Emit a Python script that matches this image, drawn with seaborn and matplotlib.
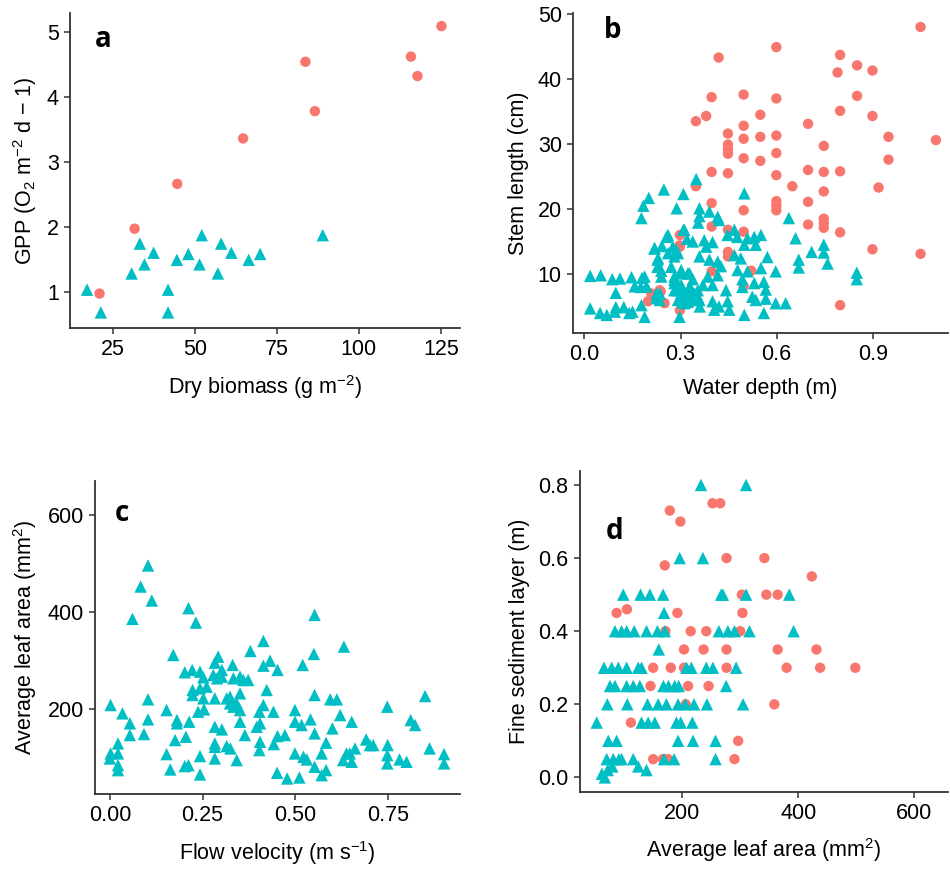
import numpy as np
import pandas as pd
import seaborn as sns
import matplotlib.pyplot as plt

RED = "#F8766D"
TEAL = "#00BFC4"

# panel a: dry biomass vs GPP
a_red_x = [20.9, 31.6, 44.6, 64.7, 83.7, 86.6, 115.9, 117.9, 125.2]
a_red_y = [0.97, 1.97, 2.66, 3.36, 4.54, 3.78, 4.62, 4.32, 5.09]
a_teal_x = [17.1, 21.3, 30.7, 33.2, 34.6, 37.4, 41.8, 41.8, 44.5, 48.0, 51.4, 52.1,
            57.0, 58.0, 61.1, 66.4, 69.9, 89.0]
a_teal_y = [1.03, 0.68, 1.28, 1.74, 1.42, 1.60, 1.03, 0.68, 1.49, 1.58, 1.42, 1.87,
            1.28, 1.74, 1.60, 1.49, 1.58, 1.87]

# panel b: water depth vs stem length
b_red = [(1.049, 48.0), (0.599, 44.9), (0.419, 43.3), (0.798, 43.7), (0.851, 42.1),
         (0.790, 41.0), (0.899, 41.3), (0.397, 37.2), (0.497, 37.6), (0.599, 37.0),
         (0.851, 37.4), (0.348, 33.5), (0.380, 34.3), (0.549, 34.5), (0.497, 32.8),
         (0.798, 35.1), (0.698, 33.1), (0.899, 34.3), (0.448, 31.6), (0.497, 30.8),
         (0.549, 31.1), (0.599, 31.3), (0.949, 31.1), (1.097, 30.6), (0.448, 29.9),
         (0.747, 29.7), (0.448, 29.2), (0.448, 28.5), (0.599, 28.6), (0.497, 27.8),
         (0.549, 27.4), (0.949, 27.6), (0.397, 25.7), (0.448, 25.5), (0.599, 25.2),
         (0.698, 26.0), (0.747, 25.7), (0.798, 25.8), (0.348, 23.5), (0.649, 23.5),
         (0.747, 22.7), (0.918, 23.3), (0.397, 20.9), (0.599, 21.2), (0.698, 21.1),
         (0.599, 20.5), (0.599, 19.8), (0.497, 19.8), (0.397, 17.3), (0.698, 17.6),
         (0.747, 18.5), (0.747, 17.8), (0.747, 17.1), (0.798, 16.4), (0.448, 16.8),
         (0.497, 16.5), (0.298, 16.0), (0.298, 14.2), (0.448, 13.4), (0.448, 12.7),
         (0.899, 13.8), (1.049, 13.1), (0.397, 10.4), (0.521, 10.5), (0.497, 8.1),
         (0.199, 5.8), (0.209, 7.0), (0.235, 7.5), (0.250, 5.5), (0.298, 4.4),
         (0.798, 5.2), (0.238, 7.3), (0.297, 14.4)]
b_teal = [(0.248, 23.0), (0.309, 22.3), (0.201, 21.7), (0.184, 20.5), (0.178, 18.6),
          (0.288, 20.1), (0.309, 16.8), (0.261, 16.0), (0.219, 14.0), (0.242, 14.3),
          (0.287, 13.7), (0.230, 12.4), (0.230, 11.1), (0.240, 10.5), (0.018, 9.7),
          (0.051, 9.8), (0.087, 9.2), (0.111, 9.3), (0.098, 7.1), (0.147, 9.5),
          (0.157, 8.1), (0.188, 9.6), (0.194, 8.1), (0.225, 7.0), (0.235, 6.0),
          (0.178, 5.2), (0.018, 4.7), (0.049, 4.0), (0.070, 3.7), (0.095, 4.2),
          (0.098, 4.9), (0.123, 4.9), (0.140, 4.0), (0.150, 4.2), (0.188, 3.4),
          (0.281, 9.1), (0.302, 10.6), (0.281, 7.5), (0.302, 8.3), (0.312, 5.5),
          (0.297, 3.4), (0.281, 12.7), (0.320, 15.4), (0.176, 8.0), (0.180, 9.4),
          (0.349, 24.6), (0.499, 22.4), (0.359, 20.1), (0.359, 18.9), (0.355, 17.9),
          (0.390, 19.6), (0.416, 18.8), (0.420, 18.3), (0.638, 18.6), (0.659, 15.5),
          (0.669, 12.2), (0.669, 11.0), (0.468, 16.8), (0.447, 16.0), (0.477, 15.7),
          (0.509, 15.5), (0.530, 15.7), (0.551, 16.0), (0.499, 14.5), (0.535, 14.5),
          (0.338, 15.0), (0.374, 15.2), (0.380, 14.2), (0.400, 14.9), (0.359, 12.7),
          (0.390, 12.2), (0.416, 11.9), (0.426, 11.2), (0.468, 12.9), (0.488, 12.4),
          (0.571, 12.6), (0.478, 10.6), (0.509, 10.4), (0.551, 10.9), (0.597, 10.4),
          (0.323, 10.1), (0.338, 9.2), (0.385, 9.6), (0.416, 9.8), (0.400, 8.3),
          (0.442, 7.5), (0.493, 9.2), (0.493, 8.0), (0.530, 8.6), (0.560, 8.8),
          (0.566, 7.6), (0.524, 6.5), (0.535, 6.0), (0.566, 6.2), (0.597, 5.5),
          (0.628, 5.5), (0.317, 7.0), (0.354, 6.5), (0.360, 5.0), (0.400, 5.8),
          (0.405, 4.5), (0.420, 5.0), (0.447, 5.8), (0.452, 4.5), (0.499, 3.7),
          (0.560, 4.0), (0.330, 8.0), (0.370, 8.3), (0.709, 13.4), (0.747, 14.5),
          (0.747, 13.3), (0.759, 11.6), (0.850, 10.2), (0.850, 9.2), (0.219, 13.9),
          (0.228, 12.2), (0.228, 11.1), (0.240, 9.6), (0.256, 15.7), (0.261, 13.2),
          (0.271, 11.1), (0.281, 9.6), (0.281, 8.6), (0.292, 7.5), (0.302, 7.0),
          (0.312, 7.0), (0.323, 7.5), (0.333, 6.5), (0.343, 7.0), (0.354, 7.5),
          (0.292, 6.0), (0.307, 5.7), (0.323, 5.7), (0.338, 6.0), (0.359, 6.0),
          (0.276, 14.2), (0.292, 13.2), (0.312, 16.8), (0.302, 10.1), (0.328, 10.1),
          (0.235, 7.0), (0.224, 6.3)]

# panel c: flow velocity vs average leaf area (all teal)
c_teal = [(0.103, 495.7), (0.083, 452.5), (0.113, 423.7), (0.061, 386.0), (0.212, 408.0),
          (0.232, 378.4), (0.171, 311.8), (0.414, 340.6), (0.379, 320.0), (0.631, 329.0),
          (0.552, 394.2), (0.550, 313.9), (0.520, 291.3), (0.432, 300.0), (0.414, 289.9),
          (0.452, 281.0), (0.292, 308.4), (0.283, 296.0), (0.331, 291.3), (0.202, 276.2),
          (0.222, 281.0), (0.243, 277.5), (0.252, 265.9), (0.279, 270.7), (0.302, 281.0),
          (0.302, 267.2), (0.289, 263.8), (0.333, 263.8), (0.351, 267.2), (0.360, 260.4),
          (0.373, 260.4), (0.423, 239.8), (0.223, 239.8), (0.223, 229.5), (0.243, 243.2),
          (0.261, 246.7), (0.252, 222.6), (0.254, 200.0), (0.283, 222.6), (0.315, 222.6),
          (0.324, 212.3), (0.333, 205.5), (0.351, 232.9), (0.351, 198.6), (0.351, 174.6),
          (0.364, 147.2), (0.342, 212.3), (0.324, 226.0), (0.414, 208.9), (0.403, 195.2),
          (0.405, 171.2), (0.396, 164.3), (0.441, 195.2), (0.405, 133.4), (0.403, 116.3),
          (0.442, 128.6), (0.452, 145.1), (0.472, 147.2), (0.451, 69.6), (0.478, 58.0),
          (0.511, 60.0), (0.499, 198.6), (0.499, 174.6), (0.517, 167.8), (0.541, 179.4),
          (0.552, 150.6), (0.552, 229.5), (0.583, 131.4), (0.571, 109.4), (0.552, 82.0),
          (0.571, 64.8), (0.583, 75.1), (0.499, 109.4), (0.522, 102.6), (0.531, 97.1),
          (0.594, 220.6), (0.612, 220.6), (0.600, 160.9), (0.621, 188.3), (0.652, 174.6),
          (0.638, 109.4), (0.629, 95.7), (0.652, 92.3), (0.661, 119.7), (0.647, 109.4),
          (0.691, 138.2), (0.701, 126.6), (0.710, 126.6), (0.748, 205.5), (0.749, 126.6),
          (0.748, 106.0), (0.748, 88.9), (0.781, 97.1), (0.800, 92.3), (0.811, 178.0),
          (0.823, 167.8), (0.850, 227.4), (0.862, 119.7), (0.901, 108.0), (0.901, 88.9),
          (0.002, 208.9), (0.002, 109.4), (0.000, 99.1), (0.022, 109.4), (0.022, 130.0),
          (0.022, 85.4), (0.022, 75.1), (0.034, 191.8), (0.054, 171.2), (0.054, 147.2),
          (0.092, 149.2), (0.103, 179.4), (0.103, 220.6), (0.153, 198.6), (0.153, 108.0),
          (0.163, 76.5), (0.176, 136.9), (0.181, 178.0), (0.181, 171.2), (0.205, 143.7),
          (0.214, 174.6), (0.202, 83.4), (0.212, 85.4), (0.243, 104.0), (0.243, 66.2),
          (0.283, 164.3), (0.302, 158.8), (0.283, 130.0), (0.283, 99.1), (0.283, 123.0),
          (0.315, 124.5), (0.325, 119.7), (0.342, 95.7), (0.238, 195.2)]

# panel d: average leaf area vs fine sediment layer
d_red = [(178.9, 0.73), (197.1, 0.70), (252.6, 0.75), (265.7, 0.75), (170.3, 0.58),
         (276.6, 0.60), (341.7, 0.60), (423.4, 0.55), (302.9, 0.50), (345.1, 0.50),
         (364.6, 0.50), (87.4, 0.45), (105.1, 0.46), (192.0, 0.45), (304.0, 0.45),
         (214.9, 0.40), (241.7, 0.40), (300.0, 0.40), (171.4, 0.40), (203.4, 0.35),
         (237.1, 0.35), (276.6, 0.35), (364.6, 0.35), (431.4, 0.35), (150.3, 0.30),
         (180.6, 0.30), (203.4, 0.30), (276.6, 0.30), (380.0, 0.30), (437.7, 0.30),
         (498.3, 0.30), (145.7, 0.25), (210.3, 0.25), (245.7, 0.25), (358.9, 0.20),
         (206.3, 0.20), (112.0, 0.15), (296.6, 0.10), (150.3, 0.05), (167.4, 0.05),
         (176.0, 0.05), (290.3, 0.05)]
d_teal = [(232.6, 0.80), (310.3, 0.80), (196.0, 0.60), (236.0, 0.60),
          (98.9, 0.50), (128.6, 0.50), (144.6, 0.50), (167.4, 0.50), (267.4, 0.50),
          (270.3, 0.50), (310.3, 0.50), (384.6, 0.50), (169.1, 0.45),
          (84.6, 0.40), (96.0, 0.40), (104.6, 0.40), (117.7, 0.40), (138.9, 0.40),
          (157.7, 0.40), (170.3, 0.40), (263.4, 0.40), (278.9, 0.40), (290.3, 0.40),
          (316.0, 0.40), (392.0, 0.40), (160.0, 0.35),
          (65.7, 0.30), (78.9, 0.30), (90.3, 0.30), (104.6, 0.30), (124.6, 0.30),
          (130.3, 0.30), (207.4, 0.30), (216.0, 0.30), (241.7, 0.30), (253.1, 0.30),
          (293.1, 0.30),
          (76.0, 0.25), (84.6, 0.25), (104.6, 0.25), (116.0, 0.25), (127.4, 0.25),
          (168.0, 0.25), (176.6, 0.25), (187.4, 0.25), (194.3, 0.25), (276.0, 0.25),
          (71.4, 0.20), (105.7, 0.20), (140.6, 0.20), (158.9, 0.20), (173.1, 0.20),
          (193.1, 0.20), (205.7, 0.20), (220.6, 0.20), (242.9, 0.20), (305.1, 0.20),
          (53.1, 0.15), (130.3, 0.15), (141.7, 0.15), (153.1, 0.15), (190.3, 0.15),
          (197.7, 0.15), (217.7, 0.15),
          (73.1, 0.10), (87.4, 0.10), (193.1, 0.10), (218.9, 0.10), (257.7, 0.10),
          (70.3, 0.05), (81.7, 0.05), (91.4, 0.05), (96.0, 0.05), (116.0, 0.05),
          (169.1, 0.05), (186.3, 0.05), (257.7, 0.05),
          (124.6, 0.03), (80.0, 0.03), (138.9, 0.02), (72.0, 0.02), (67.1, 0.00),
          (62.0, 0.01)]


def frame(red, teal):
    rx, ry = zip(*red) if red else ([], [])
    tx, ty = zip(*teal)
    return pd.DataFrame({
        "x": list(rx) + list(tx),
        "y": list(ry) + list(ty),
        "grp": ["r"] * len(rx) + ["t"] * len(tx),
    })


sns.set_style("white")
plt.rcParams["font.family"] = ["Liberation Sans", "DejaVu Sans"]
plt.rcParams["mathtext.fontset"] = "custom"
plt.rcParams["mathtext.rm"] = "Liberation Sans"
plt.rcParams["mathtext.it"] = "Liberation Sans"
plt.rcParams["mathtext.default"] = "regular"
plt.rcParams["text.color"] = "black"
plt.rcParams["axes.labelcolor"] = "black"

fig = plt.figure(figsize=(9.5, 8.74), dpi=100)
ax_a = fig.add_axes([0.0737, 0.6247, 0.4103, 0.3603])
ax_b = fig.add_axes([0.6030, 0.6187, 0.3950, 0.3668])
ax_c = fig.add_axes([0.1000, 0.0915, 0.3842, 0.3585])
ax_d = fig.add_axes([0.6100, 0.0942, 0.3880, 0.3672])

df_a = frame(list(zip(a_red_x, a_red_y)), list(zip(a_teal_x, a_teal_y)))
df_b = frame(b_red, b_teal)
df_c = frame([], c_teal)
df_d = frame(d_red, d_teal)

pal = {"r": RED, "t": TEAL}
marks = {"r": "o", "t": "^"}

for ax, df in [(ax_a, df_a), (ax_b, df_b), (ax_c, df_c), (ax_d, df_d)]:
    for g in ["r", "t"]:
        sub = df[df["grp"] == g]
        if len(sub) == 0:
            continue
        sns.scatterplot(data=sub, x="x", y="y", color=pal[g], marker=marks[g],
                        s=56 if g == "r" else 80, edgecolor="none", linewidth=0,
                        ax=ax, legend=False, zorder=3)

# limits and ticks
ax_a.set_xlim(11.9, 130.8)
ax_a.set_ylim(0.44, 5.29)
ax_a.set_xticks([25, 50, 75, 100, 125])
ax_a.set_yticks([1, 2, 3, 4, 5])

ax_b.set_xlim(-0.036, 1.135)
ax_b.set_ylim(0.88, 50.2)
ax_b.set_xticks([0.0, 0.3, 0.6, 0.9])
ax_b.set_xticklabels(["0.0", "0.3", "0.6", "0.9"])
ax_b.set_yticks([10, 20, 30, 40, 50])

ax_c.set_xlim(-0.040, 0.944)
ax_c.set_ylim(26, 670)
ax_c.set_xticks([0.0, 0.25, 0.5, 0.75])
ax_c.set_xticklabels(["0.00", "0.25", "0.50", "0.75"])
ax_c.set_yticks([200, 400, 600])

ax_d.set_xlim(23.5, 658)
ax_d.set_ylim(-0.039, 0.839)
ax_d.set_xticks([200, 400, 600])
ax_d.set_yticks([0.0, 0.2, 0.4, 0.6, 0.8])
ax_d.set_yticklabels(["0.0", "0.2", "0.4", "0.6", "0.8"])

ax_a.set_xlabel(r"Dry biomass (g m$^{-2}$)")
ax_a.set_ylabel(r"GPP (O$_{2}$ m$^{-2}$ d $-$ 1)")
ax_b.set_xlabel("Water depth (m)")
ax_b.set_ylabel("Stem length (cm)")
ax_c.set_xlabel(r"Flow velocity (m s$^{-1}$)")
ax_c.set_ylabel(r"Average leaf area (mm$^{2}$)")
ax_d.set_xlabel(r"Average leaf area (mm$^{2}$)")
ax_d.set_ylabel("Fine sediment layer (m)")

labels = [(ax_a, "a", 0.085, 0.917), (ax_b, "b", 0.107, 0.943),
          (ax_c, "c", 0.075, 0.894), (ax_d, "d", 0.095, 0.81)]
for ax, lab, lx, ly in labels:
    ax.text(lx, ly, lab, transform=ax.transAxes, fontsize=20, fontweight="bold",
            ha="center", va="center", color="black",
            family=["Open Sans", "DejaVu Sans"])
    for side in ["top", "right"]:
        ax.spines[side].set_visible(False)
    for side in ["left", "bottom"]:
        ax.spines[side].set_color("#333333")
        ax.spines[side].set_linewidth(1.3)
    ax.tick_params(axis="both", which="major", direction="out", length=4, width=1.1,
                   color="#333333", labelsize=15.5, labelcolor="black", pad=4,
                   bottom=True, left=True)
    ax.xaxis.label.set_size(15.5)
    ax.yaxis.label.set_size(15.5)
    ax.xaxis.labelpad = 9
    ax.yaxis.labelpad = 6
    ax.grid(False)

fig.savefig("out.png", dpi=100)
